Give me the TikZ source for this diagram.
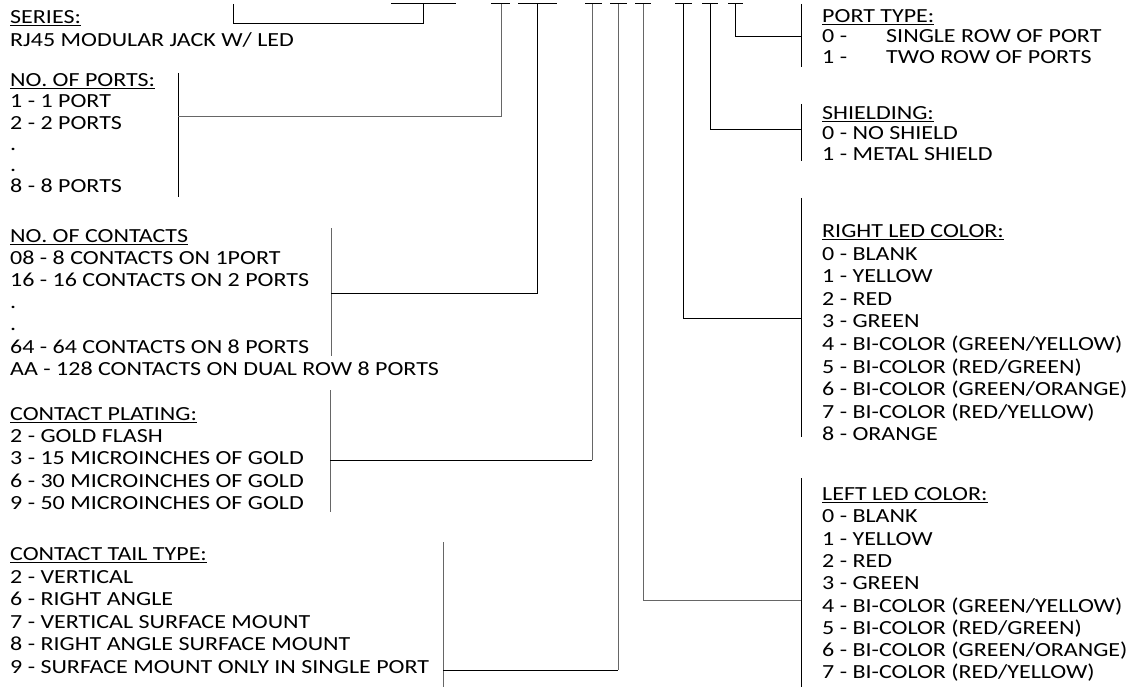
\documentclass[tikz,border=0pt]{standalone}
\usepackage{fontspec}
\setmainfont[FakeStretch=1.2]{Carlito}
\begin{document}
\begin{tikzpicture}[x=1pt,y=-1pt,
  txt/.style={anchor=base west,inner sep=0pt,font=\fontsize{20}{22}\selectfont},
  ln/.style={line width=1pt,black},
  lg/.style={line width=1pt,black!60}]
\useasboundingbox (0,0) rectangle (1132,687);

% ---------- left column texts ----------
\node[txt] (ser1) at (10,23.5) {\underline{SERIES:}};
\node[txt] (ser2) at (10,46.5) {RJ45 MODULAR JACK W/ LED};
\foreach \t [count=\i] in {{\underline{NO. OF PORTS:}},{1 - 1 PORT},{2 - 2 PORTS},{.},{.},{8 - 8 PORTS}}
  \node[txt] (por\i) at (10,{86.5+(\i-1)*21.3}) {\t};
\foreach \t [count=\i] in {{\underline{NO. OF CONTACTS}},{08 - 8 CONTACTS ON 1PORT},{16 - 16 CONTACTS ON 2 PORTS},{.},{.},{64 - 64 CONTACTS ON 8 PORTS},{AA - 128 CONTACTS ON DUAL ROW 8 PORTS}}
  \node[txt] (con\i) at (10,{242.5+(\i-1)*22.1}) {\t};
\foreach \t [count=\i] in {{\underline{CONTACT PLATING:}},{2 - GOLD FLASH},{3 - 15 MICROINCHES OF GOLD},{6 - 30 MICROINCHES OF GOLD},{9 - 50 MICROINCHES OF GOLD}}
  \node[txt] (pla\i) at (10,{420.5+(\i-1)*22.2}) {\t};
\foreach \t [count=\i] in {{\underline{CONTACT TAIL TYPE:}},{2 - VERTICAL},{6 - RIGHT ANGLE},{7 - VERTICAL SURFACE MOUNT},{8 - RIGHT ANGLE SURFACE MOUNT},{9 - SURFACE MOUNT ONLY IN SINGLE PORT}}
  \node[txt] (tai\i) at (10,{560.5+(\i-1)*22.6}) {\t};

% ---------- right column texts ----------
\node[txt] (pt1) at (822,22.5) {\underline{PORT TYPE:}};
\node[txt] (pt2) at (822,43) {\makebox[64pt][l]{0 -}SINGLE ROW OF PORT};
\node[txt] (pt3) at (822,63.5) {\makebox[64pt][l]{1 -}TWO ROW OF PORTS};
\foreach \t [count=\i] in {{\underline{SHIELDING:}},{0 - NO SHIELD},{1 - METAL SHIELD}}
  \node[txt] (shi\i) at (822,{119.5+(\i-1)*20.5}) {\t};
\foreach \t [count=\i] in {{\underline{RIGHT LED COLOR:}},{0 - BLANK},{1 - YELLOW},{2 - RED},{3 - GREEN},{4 - BI-COLOR (GREEN/YELLOW)},{5 - BI-COLOR (RED/GREEN)},{6 - BI-COLOR (GREEN/ORANGE)},{7 - BI-COLOR (RED/YELLOW)},{8 - ORANGE}}
  \node[txt] (rl\i) at (822,{237.5+(\i-1)*22.6}) {\t};
\foreach \t [count=\i] in {{\underline{LEFT LED COLOR:}},{0 - BLANK},{1 - YELLOW},{2 - RED},{3 - GREEN},{4 - BI-COLOR (GREEN/YELLOW)},{5 - BI-COLOR (RED/GREEN)},{6 - BI-COLOR (GREEN/ORANGE)},{7 - BI-COLOR (RED/YELLOW)}}
  \node[txt] (ll\i) at (822,{500.5+(\i-1)*22.3}) {\t};

% ---------- stems (top of part number) ----------
\coordinate (sA) at (423,4);
\coordinate (sB) at (501,4);
\coordinate (sC) at (537,4);
\coordinate (sD) at (592,4);
\coordinate (sE) at (618,4);
\coordinate (sF) at (643,4);
\coordinate (sG) at (683,4);
\coordinate (sH) at (710,4);
\coordinate (sI) at (735,4);

% top bars
\draw[ln] (391,4) -- (456,4);
\draw[ln] (491,4) -- (510,4);
\draw[ln] (518,4) -- (557,4);
\draw[ln] (585,4) -- (602,4);
\draw[ln] (610,4) -- (627,4);
\draw[ln] (635,4) -- (651,4);
\draw[ln] (675,4) -- (692,4);
\draw[ln] (702,4) -- (718,4);
\draw[ln] (728,4) -- (743,4);

% series
\coordinate (bA) at (233,4);
\draw[ln] (bA) -- (233,24) -- (sA |- 0,24) -- (sA);

% no. of ports
\coordinate (bB1) at (178,73); \coordinate (bB2) at (178,197);
\draw[ln] (bB1) -- (bB2);
\draw[lg] (178,117) -- (sB |- 0,117) -- (sB);

% no. of contacts
\coordinate (bC1) at (331,228); \coordinate (bC2) at (331,356);
\draw[lg] (bC1) -- (bC2);
\draw[ln] (331,293) -- (sC |- 0,293) -- (sC);

% contact plating
\coordinate (bD1) at (330,390); \coordinate (bD2) at (330,512);
\draw[lg] (bD1) -- (bD2);
\draw[ln] (330,460) -- (sD |- 0,460);
\draw[lg] (sD |- 0,460) -- (sD);

% contact tail
\coordinate (bE1) at (443,542); \coordinate (bE2) at (443,687);
\draw[lg] (bE1) -- (bE2);
\draw[ln] (443,670) -- (sE |- 0,670);
\draw[lg] (sE |- 0,670) -- (sE);

% left LED
\coordinate (bF1) at (801,478); \coordinate (bF2) at (801,687);
\draw[ln] (bF1) -- (bF2);
\draw[lg] (sF) -- (sF |- 0,600) -- (801,600);

% right LED
\coordinate (bG1) at (801,198); \coordinate (bG2) at (801,437);
\draw[ln] (bG1) -- (bG2);
\draw[ln] (sG) -- (sG |- 0,318) -- (801,318);

% shielding
\coordinate (bH1) at (801,104); \coordinate (bH2) at (801,161);
\draw[ln] (bH1) -- (bH2);
\draw[ln] (sH) -- (sH |- 0,130) -- (801,130);

% port type
\coordinate (bI1) at (801,4); \coordinate (bI2) at (801,67);
\draw[ln] (bI1) -- (bI2);
\draw[ln] (sI) -- (sI |- 0,37) -- (801,37);
\end{tikzpicture}
\end{document}
